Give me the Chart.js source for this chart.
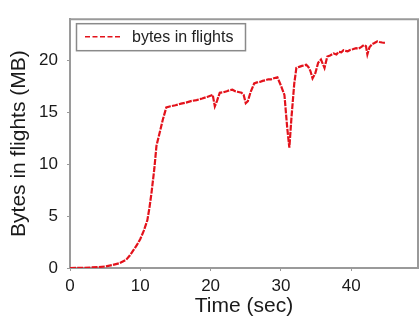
<!DOCTYPE html>
<html>
<head>
<meta charset="utf-8">
<script src="https://cdn.jsdelivr.net/npm/chart.js@4/dist/chart.umd.min.js"></script>
<style>
  body { margin: 0; background: #fff; }
  #wrap { width: 419px; height: 321px; }
</style>
</head>
<body>
<div id="wrap"><canvas id="flightChart" width="419" height="321"></canvas></div>
<script>
// time (sec) and bytes in flight (MB)
const times = [0, 2, 4, 5, 6, 7, 8, 8.5, 9, 9.5, 10, 10.5, 11, 11.3, 11.6, 12.0, 12.3, 12.7, 13.2, 13.7,
  14.3, 15, 15.8, 16.5, 17.2, 18, 18.8, 19.5, 20.3, 20.6, 20.9, 21.3, 21.8, 22.3, 22.7, 23.1, 23.5, 23.8, 24.4, 24.7, 25.0, 25.3, 25.7,
  26.2, 26.6, 27, 27.4, 27.8, 28.2, 28.6, 29.0, 29.5, 30.0, 30.5, 30.9, 31.2, 31.5, 31.9, 32.2, 32.6, 33.0, 33.3, 33.6, 33.9, 34.2,
  34.5, 34.9, 35.3, 35.7, 36.2, 36.6, 37.0, 37.5, 37.9, 38.2, 38.6, 38.9, 39.2, 39.5, 39.9, 40.2, 40.7, 41.0, 41.4, 41.8, 42.1, 42.3,
  42.6, 43.0, 43.3, 43.7, 44.0, 44.4, 44.9];
const bytesInFlight = [0, 0.02, 0.08, 0.15, 0.28, 0.45, 0.8, 1.2, 1.7, 2.2, 2.8, 3.6, 4.6, 5.8, 7.3, 9.6, 11.8, 12.9, 14.3, 15.5,
  15.6, 15.7, 15.85, 15.95, 16.1, 16.2, 16.35, 16.5, 16.7, 15.6, 16.1, 16.9, 16.95, 17.05, 17.15, 17.2, 17.05, 17.0, 16.9, 16.7, 15.9, 16.1, 17.0,
  17.8, 17.9, 17.95, 18.05, 18.1, 18.2, 18.2, 18.3, 18.4, 17.6, 16.7, 13.5, 11.6, 14.5, 17.8, 19.3, 19.4, 19.5, 19.55, 19.6, 19.4, 19.0,
  18.3, 18.8, 19.8, 20.1, 19.3, 20.4, 20.5, 20.7, 20.6, 20.85, 20.8, 21.0, 20.95, 20.9, 21.05, 21.1, 21.2, 21.15, 21.3, 21.5, 21.4, 20.6,
  21.3, 21.6, 21.7, 21.85, 21.8, 21.75, 21.7];
const xTicks = [0, 10, 20, 30, 40];
const yTicks = [0, 5, 10, 15, 20];

const lineColor = '#e3121b';
const frameColor = '#9a9a9a';

// top/right frame lines and the boxed legend inside the plot
const framePlugin = {
    id: 'frame',
    afterDraw(chart) {
        const ctx = chart.ctx;
        const a = chart.chartArea;
        ctx.save();
        ctx.strokeStyle = frameColor;
        ctx.lineWidth = 2;
        ctx.beginPath();
        ctx.moveTo(a.left, a.top);
        ctx.lineTo(a.right, a.top);
        ctx.lineTo(a.right, a.bottom);
        ctx.stroke();

        // legend
        const ds = chart.data.datasets[0];
        ctx.lineWidth = 1.5;
        ctx.strokeStyle = '#8a8a8a';
        ctx.strokeRect(a.left + 6.5, a.top + 4.5, 169, 27);
        ctx.strokeStyle = ds.borderColor;
        ctx.lineWidth = 1.5;
        ctx.setLineDash([5, 2.5]);
        ctx.beginPath();
        ctx.moveTo(a.left + 15, a.top + 17.5);
        ctx.lineTo(a.left + 52, a.top + 17.5);
        ctx.stroke();
        ctx.setLineDash([]);
        ctx.fillStyle = '#222';
        ctx.font = '16px "Liberation Sans", Arial, sans-serif';
        ctx.textBaseline = 'middle';
        ctx.fillText(ds.label, a.left + 62, a.top + 18);
        ctx.restore();
    }
};

const ctx = document.getElementById('flightChart').getContext('2d');
const flightChart = new Chart(ctx, {
    type: 'line',
    data: {
        labels: times,
        datasets: [{
            label: 'bytes in flights',
            data: times.map((t, i) => ({ x: t, y: bytesInFlight[i] })),
            borderColor: lineColor,
            borderWidth: 2.2,
            borderDash: [6, 1.2],
            pointRadius: 0,
            tension: 0,
            fill: false
        }]
    },
    options: {
        responsive: false,
        animation: false,
        layout: { padding: { top: 10, right: 1, left: 0, bottom: 0 } },
        plugins: {
            legend: { display: false },
            tooltip: { enabled: false }
        },
        scales: {
            x: {
                type: 'linear',
                min: 0,
                max: 49.5,
                afterBuildTicks: (scale) => { scale.ticks = xTicks.map(v => ({ value: v })); },
                afterFit: (scale) => { scale.height = 53; },
                grid: { display: true, drawOnChartArea: false, drawTicks: true, tickLength: 3, color: frameColor },
                border: { display: true, color: frameColor, width: 2 },
                ticks: {
                    color: '#1a1a1a',
                    padding: 5,
                    maxRotation: 0,
                    font: { family: '"Liberation Sans", Arial, sans-serif', size: 17 }
                },
                title: {
                    display: true,
                    text: 'Time (sec)',
                    color: '#1a1a1a',
                    padding: { top: 0, bottom: 2 },
                    font: { family: '"Liberation Sans", Arial, sans-serif', size: 21 }
                }
            },
            y: {
                min: 0,
                max: 24,
                afterBuildTicks: (scale) => { scale.ticks = yTicks.map(v => ({ value: v })); },
                afterFit: (scale) => { scale.width = 70; },
                grid: { display: true, drawOnChartArea: false, drawTicks: true, tickLength: 3, color: frameColor },
                border: { display: true, color: frameColor, width: 2 },
                ticks: {
                    color: '#1a1a1a',
                    padding: 9,
                    font: { family: '"Liberation Sans", Arial, sans-serif', size: 17 }
                },
                title: {
                    display: true,
                    text: 'Bytes in flights (MB)',
                    color: '#1a1a1a',
                    padding: { top: 7, bottom: 0 },
                    font: { family: '"Liberation Sans", Arial, sans-serif', size: 21 }
                }
            }
        }
    },
    plugins: [framePlugin]
});
</script>
</body>
</html>
